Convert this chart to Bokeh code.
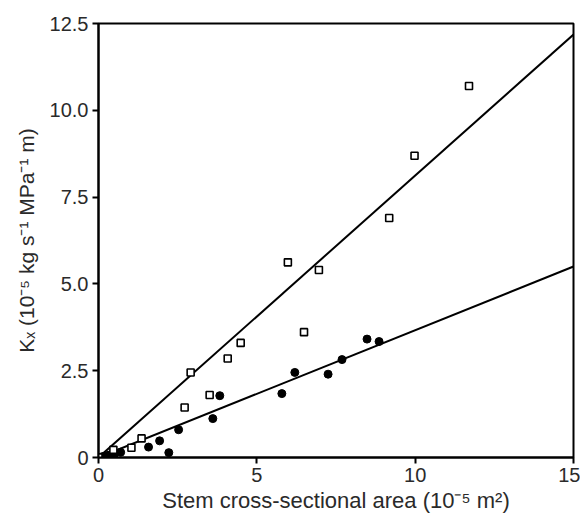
from bokeh.plotting import figure
from bokeh.models import FixedTicker, CustomJSTickFormatter, Range1d
from bokeh.embed import file_html
from bokeh.resources import INLINE

# Open squares
sq_x = [0.0, 0.47, 1.04, 1.36, 2.72, 2.91, 3.51, 4.08, 4.49, 5.98, 6.49, 6.96, 9.18, 9.98, 11.70]
sq_y = [0.0, 0.22, 0.28, 0.55, 1.44, 2.45, 1.80, 2.85, 3.30, 5.62, 3.61, 5.40, 6.90, 8.69, 10.70]

# Filled circles
ci_x = [0.10, 0.20, 0.30, 0.38, 0.50, 0.70, 1.58, 1.93, 2.22, 2.53, 3.61, 3.83, 5.79, 6.20, 7.25, 7.69, 8.48, 8.86]
ci_y = [0.02, 0.04, 0.06, 0.08, 0.10, 0.15, 0.30, 0.48, 0.14, 0.80, 1.12, 1.78, 1.84, 2.45, 2.40, 2.82, 3.41, 3.34]

# Fitted lines
fit_x = [0.0, 15.0]
fit_sq_y = [0.0, 12.18]
fit_ci_y = [0.0, 5.50]

x_ticks = [0, 5, 10, 15]
y_ticks = [0, 2.5, 5, 7.5, 10, 12.5]

FONT = "Liberation Sans"
TXT = "#2a2a2a"

p = figure(width=580, height=515, output_backend="svg", toolbar_location=None,
           x_range=Range1d(0, 15), y_range=Range1d(0, 12.5),
           min_border_left=98, min_border_right=7, min_border_top=23, min_border_bottom=58)

p.line(fit_x, fit_sq_y, line_color="black", line_width=2)
p.line(fit_x, fit_ci_y, line_color="black", line_width=2)
p.scatter(ci_x, ci_y, marker="circle", size=8, fill_color="black", line_color="black")
p.scatter(sq_x, sq_y, marker="square", size=7, fill_color="white", line_color="black", line_width=1.6)

p.grid.visible = False
p.outline_line_color = "black"
p.outline_line_width = 2
p.outline_line_alpha = 1

p.xaxis.ticker = FixedTicker(ticks=x_ticks)
p.yaxis.ticker = FixedTicker(ticks=y_ticks)
p.yaxis.formatter = CustomJSTickFormatter(code="return tick == 0 ? '0' : tick.toFixed(1);")

for ax in (p.xaxis[0], p.yaxis[0]):
    ax.axis_line_width = 2
    ax.axis_line_color = "black"
    ax.major_tick_line_width = 2
    ax.major_tick_line_color = "black"
    ax.major_tick_out = 6
    ax.major_tick_in = 0
    ax.minor_tick_line_color = None
    ax.major_label_text_font = FONT
    ax.major_label_text_font_size = "20px"
    ax.major_label_text_color = TXT
    ax.major_label_standoff = 4
    ax.axis_label_text_font = FONT
    ax.axis_label_text_font_size = "21px"
    ax.axis_label_text_font_style = "normal"
    ax.axis_label_text_color = TXT

p.xaxis.axis_label_text_font_size = "22px"
p.xaxis.axis_label = "Stem cross-sectional area (10\u207b\u2075 m\u00b2)"
p.yaxis.axis_label = "K\u2093 (10\u207b\u2075 kg s\u207b\u00b9 MPa\u207b\u00b9 m)"
p.xaxis.axis_label_standoff = 3
p.yaxis.axis_label_standoff = 9

open("out.html", "w").write(file_html(p, INLINE))
